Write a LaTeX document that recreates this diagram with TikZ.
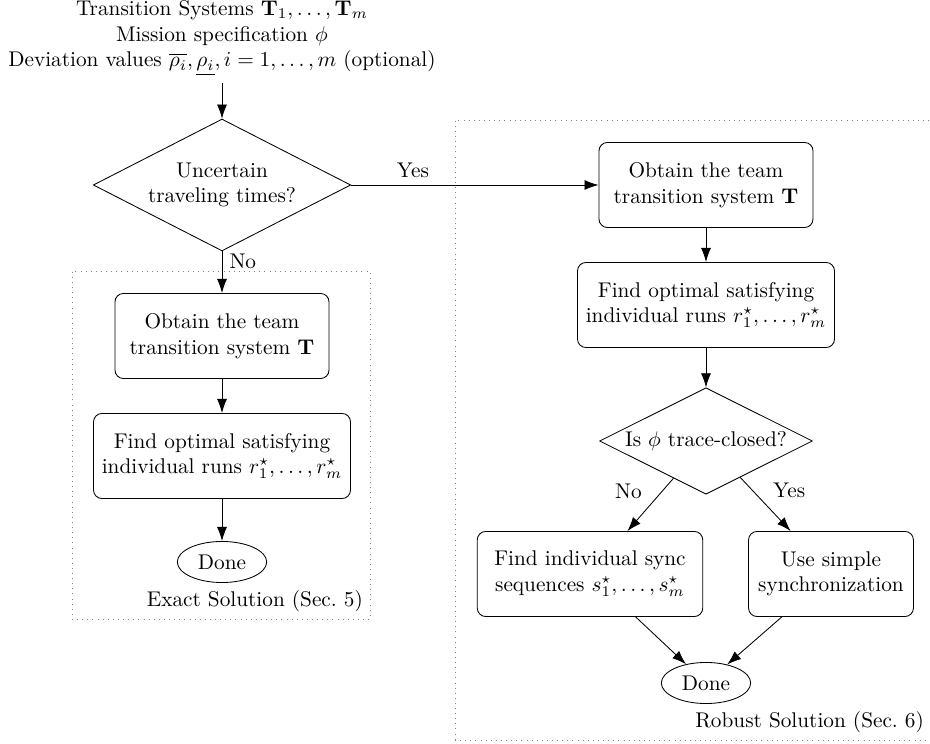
\documentclass[tikz,border=0pt]{standalone}
\usepackage{amsmath}
\usepackage{amssymb}
\usetikzlibrary{shapes.geometric,arrows.meta}

\begin{document}
\begin{tikzpicture}[x=0.47pt,y=-0.47pt,
  block/.style={rectangle,rounded corners,draw,align=center,minimum height=40pt,inner sep=2pt},
  decision/.style={diamond,draw,align=center,aspect=2,inner sep=1pt},
  stop/.style={ellipse,draw,minimum width=42pt,minimum height=19.3pt,inner sep=1pt},
  group/.style={rectangle,draw=gray,dotted,inner sep=0pt},
  arr/.style={-{Latex[length=6.6pt,width=4.7pt]}}]
\useasboundingbox (0,0) rectangle (930,744);
\node [align=center] (input) at (222,38) {Transition Systems $\mathbf{T}_1,\dots,\mathbf{T}_m$\\
  Mission specification $\phi$\\
  Deviation values $\overline{\rho_i},\underline{\rho_i},i=1,\dots,m$ (optional)};
\node [decision,minimum width=121pt,minimum height=62pt] (uncertain) at (222,185) {Uncertain\\ traveling times?};

\node [group,minimum width=140pt,minimum height=163.6pt] (exact) at (221,445) {};
\node [anchor=south east] (exactlabel) at (exact.south east) {Exact Solution (Sec.~5)};
\node [block,minimum width=100.6pt] (teamL) at (222,336) {Obtain the team\\ transition system $\mathbf{T}$};
\node [block,minimum width=120.8pt] (runsL) at (222,456) {Find optimal satisfying\\ individual runs $r^\star_1,\dots,r^\star_m$};
\node [stop] (doneL) at (222,562) {Done};

\node [group,minimum width=223.7pt,minimum height=291.4pt] (robust) at (693,430) {};
\node [anchor=south east] (robustlabel) at (robust.south east) {Robust Solution (Sec.~6)};
\node [block,minimum width=100.6pt] (teamR) at (706,185) {Obtain the team\\ transition system $\mathbf{T}$};
\node [block,minimum width=120.8pt] (runsR) at (706,305) {Find optimal satisfying\\ individual runs $r^\star_1,\dots,r^\star_m$};
\node [decision] (traceclosed) at (706,441) {Is $\phi$ trace-closed?};
\node [block,minimum width=106pt] (sync) at (590,574) {Find individual sync\\ sequences $s^\star_1,\dots,s^\star_m$};
\node [block,minimum width=77.5pt] (simple) at (831,574) {Use simple\\ synchronization};
\node [stop] (doneR) at (706,683) {Done};

\draw [arr] (input) -- (uncertain);
\draw [arr] (uncertain) -- node [above,pos=0.25] {Yes} (teamR);
\draw [arr] (uncertain) -- node [right,pos=0.25] {No} (teamL);
\draw [arr] (teamL) -- (runsL);
\draw [arr] (runsL) -- (doneL);
\draw [arr] (teamR) -- (runsR);
\draw [arr] (runsR) -- (traceclosed);
\draw [arr] (traceclosed) -- node [left=6pt,pos=0.25] {No} (sync);
\draw [arr] (traceclosed) -- node [right=6pt,pos=0.25] {Yes} (simple);
\draw [arr] (sync) -- (doneR);
\draw [arr] (simple) -- (doneR);
\end{tikzpicture}
\end{document}
